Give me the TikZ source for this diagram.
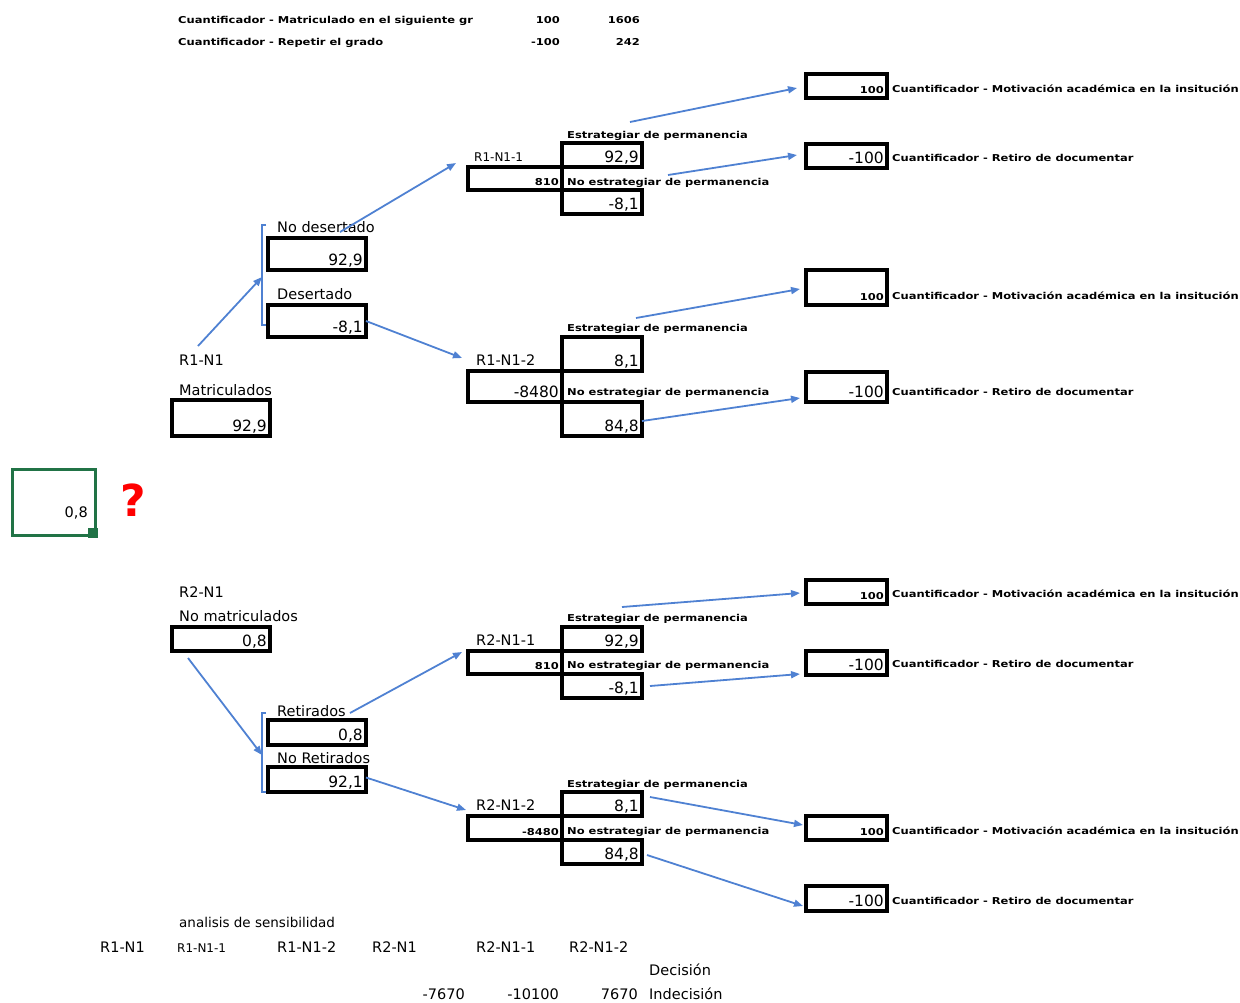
\documentclass[tikz,border=0pt]{standalone}
\usepackage{fontspec}
\usepackage{graphicx}
\setmainfont{DejaVu Sans}
\usetikzlibrary{arrows.meta}
\definecolor{arrowblue}{RGB}{79,129,210}
\definecolor{xlgreen}{RGB}{33,115,70}
\newcommand\pxs[1]{\scalebox{1.21}[1]{\bfseries #1}}
\newcommand\valbox[7][vnum]{%
  \node[vbox, minimum width={(#5-#3)*1pt}, minimum height={(#6-#4)*1pt}] (#2) at ({(#3+#5)/2},{(#4+#6)/2}) {};
  \node[#1, anchor=base east] at ([xshift=-3pt,yshift=5pt]#2.south east) {#7};}
\begin{document}
\begin{tikzpicture}[x=1pt,y=-1pt,
  vbox/.style={draw=black,line width=3.2pt,inner sep=0pt,outer sep=0pt},
  vnum/.style={font=\fontsize{15.5}{16}\selectfont,inner sep=0pt},
  pxnum/.style={font=\fontsize{9.5}{11}\selectfont,inner sep=0pt},
  lbl/.style={font=\fontsize{14.5}{15}\selectfont,inner sep=0pt,anchor=base west},
  slbl/.style={font=\fontsize{12}{13}\selectfont,inner sep=0pt,anchor=base west},
  px/.style={font=\fontsize{9.5}{11}\selectfont,inner sep=0pt,anchor=base west},
  pxr/.style={font=\fontsize{9.5}{11}\selectfont,inner sep=0pt,anchor=base east},
  numr/.style={font=\fontsize{14.5}{15}\selectfont,inner sep=0pt,anchor=base east},
  conn/.style={draw=arrowblue,line width=1.8pt,-{Triangle[length=9pt,width=7pt]}},
  brk/.style={draw=arrowblue,line width=1.8pt}]
\useasboundingbox (0,0) rectangle (1240,1002);

% top rows
\node[px] (t1) at (178,23) {\pxs{Cuantificador - Matriculado en el siguiente gr}};
\node[pxr] (t1a) at (560,23) {\pxs{100}};
\node[pxr] (t1b) at (640,23) {\pxs{1606}};
\node[px] (t2) at (178,45) {\pxs{Cuantificador - Repetir el grado}};
\node[pxr] (t2a) at (560,45) {\pxs{-100}};
\node[pxr] (t2b) at (640,45) {\pxs{242}};

% ===== R1 tree =====
\node[lbl] (r1n1) at (179,365) {R1-N1};
\node[lbl] (matlbl) at (179,395) {Matriculados};
\valbox{mat}{172}{400}{270}{436}{92,9}
\draw[brk] (266,225) -- (262,225) -- (262,325) -- (266,325);
\coordinate (br1) at (262,277);
\coordinate (a1s) at (198,346);
\draw[conn] (a1s) -- (br1);

\node[lbl] (ndlbl) at (277,232) {No desertado};
\valbox{nd}{268}{238}{366}{270}{92,9}
\node[lbl] (delbl) at (277,299) {Desertado};
\valbox{de}{268}{305}{366}{337}{-8,1}

\coordinate (a2s) at (340,232);
\coordinate (a2e) at (456,163);
\draw[conn] (a2s) -- (a2e);
\coordinate (a3e) at (462,358);
\draw[conn] (de.east) -- (a3e);

% R1-N1-1
\node[slbl] (r11lbl) at (474,161) {R1-N1-1};
\valbox[pxnum]{l11}{468}{167}{562}{190}{\pxs{810}}
\valbox{e11}{562}{143}{642}{167}{92,9}
\valbox{n11}{562}{190}{642}{214}{-8,1}
\node[px] (s11a) at (567,138) {\pxs{Estrategiar de permanencia}};
\node[px] (s11b) at (567,185) {\pxs{No estrategiar de permanencia}};
\valbox[pxnum]{m11}{806}{74}{887}{98}{\pxs{100}}
\node[px] (m11t) at (892,92) {\pxs{Cuantificador - Motivación académica en la insitución}};
\valbox{r11}{806}{144}{887}{168}{-100}
\node[px] (r11t) at (892,161) {\pxs{Cuantificador - Retiro de documentar}};
\coordinate (b1s) at (630,122);
\coordinate (b1e) at (797,88);
\draw[conn] (b1s) -- (b1e);
\coordinate (b2s) at (668,175);
\coordinate (b2e) at (797,155);
\draw[conn] (b2s) -- (b2e);

% R1-N1-2
\node[lbl] (r12lbl) at (476,365) {R1-N1-2};
\valbox{l12}{468}{371}{562}{402}{-8480}
\valbox{e12}{562}{337}{642}{371}{8,1}
\valbox{n12}{562}{402}{642}{436}{84,8}
\node[px] (s12a) at (567,331) {\pxs{Estrategiar de permanencia}};
\node[px] (s12b) at (567,395) {\pxs{No estrategiar de permanencia}};
\valbox[pxnum]{m12}{806}{270}{887}{305}{\pxs{100}}
\node[px] (m12t) at (892,299) {\pxs{Cuantificador - Motivación académica en la insitución}};
\valbox{r12}{806}{372}{887}{402}{-100}
\node[px] (r12t) at (892,395) {\pxs{Cuantificador - Retiro de documentar}};
\coordinate (c1s) at (636,318);
\coordinate (c1e) at (800,289);
\draw[conn] (c1s) -- (c1e);
\coordinate (c2e) at (800,398);
\draw[conn] ([yshift=-2pt]n12.east) -- (c2e);

% green cell and question mark
\node[draw=xlgreen,line width=3pt,minimum width=83pt,minimum height=66pt,inner sep=0pt] (cell) at (53.5,502) {};
\fill[xlgreen] (88,528) rectangle (98,538);
\node[numr] (cellv) at (88,517) {0,8};
\node[font=\fontsize{44}{44}\selectfont\bfseries,text=red,inner sep=0pt] (q) at (133,500) {?};

% ===== R2 tree =====
\node[lbl] (r2n1) at (179,597) {R2-N1};
\node[lbl] (nmlbl) at (179,621) {No matriculados};
\valbox{nm}{172}{627}{270}{651}{0,8}
\draw[brk] (266,713) -- (262,713) -- (262,792) -- (266,792);
\coordinate (br2) at (262,755);
\coordinate (d1s) at (188,658);
\draw[conn] (d1s) -- (br2);

\node[lbl] (retlbl) at (277,716) {Retirados};
\valbox{ret}{268}{720}{366}{745}{0,8}
\node[lbl] (nretlbl) at (277,763) {No Retirados};
\valbox{nret}{268}{767}{366}{792}{92,1}
\coordinate (d2s) at (350,713);
\coordinate (d2e) at (462,652);
\draw[conn] (d2s) -- (d2e);
\coordinate (d3e) at (466,810);
\draw[conn] ([yshift=2pt]nret.east) -- (d3e);

% R2-N1-1
\node[lbl] (r21lbl) at (476,645) {R2-N1-1};
\valbox[pxnum]{l21}{468}{651}{562}{674}{\pxs{810}}
\valbox{e21}{562}{627}{642}{651}{92,9}
\valbox{n21}{562}{674}{642}{698}{-8,1}
\node[px] (s21a) at (567,621) {\pxs{Estrategiar de permanencia}};
\node[px] (s21b) at (567,668) {\pxs{No estrategiar de permanencia}};
\valbox[pxnum]{m21}{806}{580}{887}{604}{\pxs{100}}
\node[px] (m21t) at (892,597) {\pxs{Cuantificador - Motivación académica en la insitución}};
\valbox{r21}{806}{651}{887}{675}{-100}
\node[px] (r21t) at (892,667) {\pxs{Cuantificador - Retiro de documentar}};
\coordinate (e1s) at (622,607);
\coordinate (e1e) at (800,593);
\draw[conn] (e1s) -- (e1e);
\coordinate (e2s) at (650,686);
\coordinate (e2e) at (800,674);
\draw[conn] (e2s) -- (e2e);

% R2-N1-2
\node[lbl] (r22lbl) at (476,810) {R2-N1-2};
\valbox[pxnum]{l22}{468}{816}{562}{840}{\pxs{-8480}}
\valbox{e22}{562}{792}{642}{816}{8,1}
\valbox{n22}{562}{840}{642}{864}{84,8}
\node[px] (s22a) at (567,787) {\pxs{Estrategiar de permanencia}};
\node[px] (s22b) at (567,834) {\pxs{No estrategiar de permanencia}};
\valbox[pxnum]{m22}{806}{816}{887}{840}{\pxs{100}}
\node[px] (m22t) at (892,834) {\pxs{Cuantificador - Motivación académica en la insitución}};
\valbox{r22}{806}{886}{887}{911}{-100}
\node[px] (r22t) at (892,904) {\pxs{Cuantificador - Retiro de documentar}};
\coordinate (f1s) at (650,797);
\coordinate (f1e) at (803,825);
\draw[conn] (f1s) -- (f1e);
\coordinate (f2s) at (647,855);
\coordinate (f2e) at (803,906);
\draw[conn] (f2s) -- (f2e);

% bottom sensitivity analysis
\node[font=\fontsize{13.5}{14}\selectfont,inner sep=0pt,anchor=base west] (an) at (179,927) {analisis de sensibilidad};
\node[lbl] (b1) at (100,952) {R1-N1};
\node[slbl] (b2) at (177,952) {R1-N1-1};
\node[lbl] (b3) at (277,952) {R1-N1-2};
\node[lbl] (b4) at (372,952) {R2-N1};
\node[lbl] (b5) at (476,952) {R2-N1-1};
\node[lbl] (b6) at (569,952) {R2-N1-2};
\node[lbl] (dec) at (649,975) {Decisión};
\node[numr] (v1) at (465,999) {-7670};
\node[numr] (v2) at (559,999) {-10100};
\node[numr] (v3) at (638,999) {7670};
\node[lbl] (indec) at (649,999) {Indecisión};
\end{tikzpicture}
\end{document}
